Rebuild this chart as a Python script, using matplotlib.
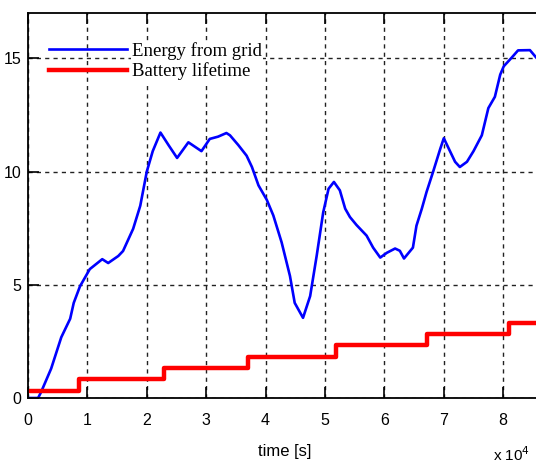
import matplotlib.pyplot as plt

# energy drawn from the grid (blue curve)
energy_t = [0, 0.17, 0.22, 0.39, 0.56, 0.71, 0.77, 0.875, 1.04, 1.25, 1.35, 1.52,
            1.6, 1.77, 1.89, 2.0, 2.1, 2.23, 2.37, 2.51, 2.7, 2.92, 3.06, 3.2,
            3.34, 3.4, 3.54, 3.68, 3.77, 3.88, 4.02, 4.13, 4.27, 4.41, 4.49, 4.63,
            4.75, 4.86, 4.97, 5.06, 5.15, 5.25, 5.34, 5.42, 5.53, 5.70, 5.81, 5.93,
            6.04, 6.18, 6.26, 6.33, 6.48, 6.54, 6.63, 6.71, 6.82, 6.94, 7.0, 7.19,
            7.27, 7.39, 7.5, 7.64, 7.75, 7.86, 7.95, 8.01, 8.14, 8.25, 8.45, 8.55, 8.6]
energy = [0, 0, 0.26, 1.3, 2.68, 3.5, 4.2, 4.93, 5.69, 6.13, 5.96, 6.27,
          6.49, 7.47, 8.49, 10.0, 10.9, 11.72, 11.15, 10.6, 11.29, 10.9, 11.44, 11.54,
          11.7, 11.6, 11.17, 10.7, 10.2, 9.39, 8.75, 8.06, 6.87, 5.39, 4.2, 3.54,
          4.5, 6.28, 8.2, 9.24, 9.54, 9.17, 8.36, 7.99, 7.64, 7.17, 6.64, 6.2,
          6.41, 6.6, 6.5, 6.16, 6.64, 7.61, 8.36, 9.1, 9.99, 11.0, 11.47, 10.43,
          10.2, 10.43, 10.9, 11.6, 12.8, 13.3, 14.28, 14.65, 15.02, 15.35, 15.36, 15.05, 14.9]

# battery lifetime (red staircase)
life_t = [0, 0.86, 2.29, 3.71, 5.18, 6.72, 8.10, 9.0]
life = [0.33, 0.83, 1.33, 1.83, 2.33, 2.83, 3.33, 3.33]

xticks = [0, 1, 2, 3, 4, 5, 6, 7, 8]
yticks = [0, 5, 10, 15]

sans = "Liberation Sans"

fig = plt.figure(figsize=(5.36, 4.68), dpi=100)
# axes runs past the right edge of the picture, like the cropped original
ax = fig.add_axes([28 / 536, 70 / 468, 534.6 / 536, 385 / 468])

ax.plot(energy_t, energy, color="#0000ff", lw=1.9, label="Energy from grid")
ax.plot(life_t, life, color="#ff0000", lw=3.2, drawstyle="steps-post",
        label="Battery lifetime")

ax.set_xlim(0, 9)
ax.set_ylim(0, 17)
ax.set_xticks(xticks)
ax.set_yticks(yticks)
ax.grid(True, color="#222222", linestyle=(0, (3, 3)), lw=1.0)
ax.tick_params(direction="in", top=True, right=False, length=8, width=1.2,
               labelsize=11.5)
ax.tick_params(axis="x", pad=11)
ax.tick_params(axis="y", pad=5)
for lab in ax.get_xticklabels() + ax.get_yticklabels():
    lab.set_family(sans)
for s in ["left", "bottom", "top"]:
    ax.spines[s].set_linewidth(1.3)
ax.spines["right"].set_visible(False)

ax.set_xlabel("time [s]", family=sans, fontsize=12)
ax.xaxis.set_label_coords((285 - 28) / 534.6, -0.12)

leg = ax.legend(loc="upper left", bbox_to_anchor=(0.039, 0.925), frameon=False,
                prop={"family": "Liberation Serif", "size": 13.5},
                handlelength=4.16, handletextpad=0.27, borderpad=0,
                borderaxespad=0, labelspacing=0.15)
for t in leg.get_texts():
    t.set_bbox(dict(facecolor="white", edgecolor="none", pad=1))

fig.text(530 / 536, 4 / 468, "x 10$^{4}$", family=sans, fontsize=11,
         va="bottom", ha="right")

fig.savefig("out.png", dpi=100)
